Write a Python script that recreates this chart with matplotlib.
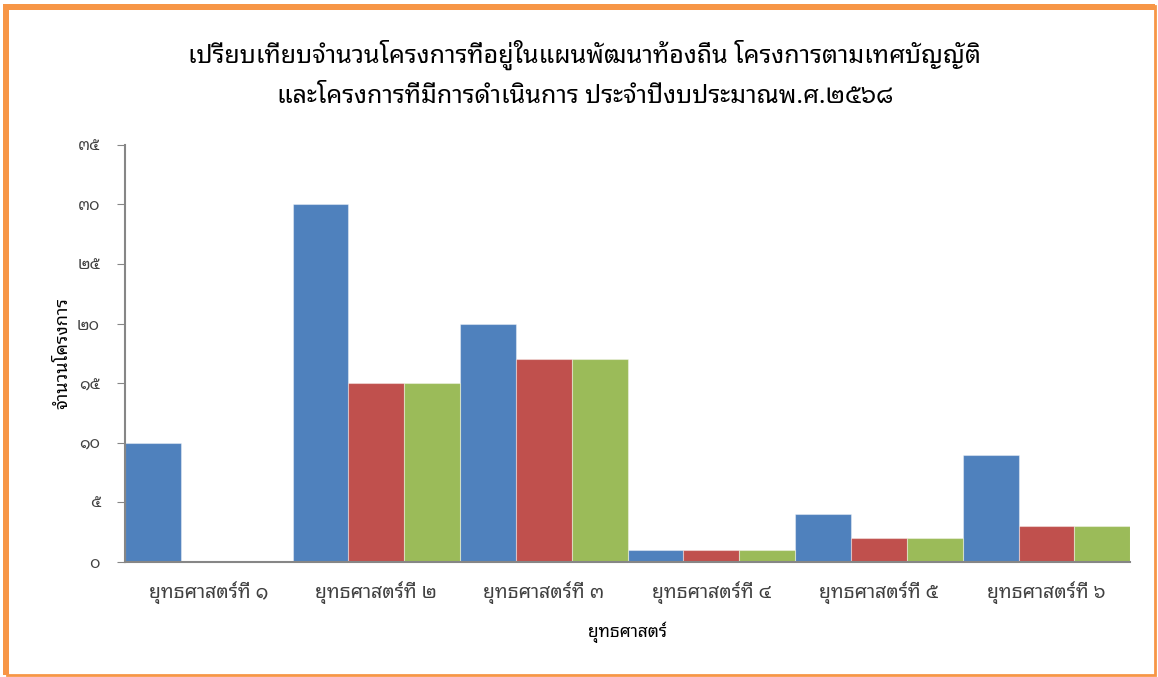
import numpy as np
import matplotlib
matplotlib.use("Agg")
import matplotlib.pyplot as plt
from matplotlib.patches import Rectangle

categories = ["ยุทธศาสตร์ที่ ๑", "ยุทธศาสตร์ที่ ๒", "ยุทธศาสตร์ที่ ๓",
              "ยุทธศาสตร์ที่ ๔", "ยุทธศาสตร์ที่ ๕", "ยุทธศาสตร์ที่ ๖"]
in_plan = [10, 30, 20, 1, 4, 9]
by_decree = [0, 15, 17, 1, 2, 3]
carried_out = [0, 15, 17, 1, 2, 3]
y_ticks = [0, 5, 10, 15, 20, 25, 30, 35]
y_tick_labels = ["๐", "๕", "๑๐", "๑๕", "๒๐", "๒๕", "๓๐", "๓๕"]

title = ("เปรียบเทียบจำนวนโครงการที่อยู่ในแผนพัฒนาท้องถิ่น โครงการตามเทศบัญญัติ\n"
         "และโครงการที่มีการดำเนินการ ประจำปีงบประมาณพ.ศ.๒๕๖๘")

plt.rcParams["font.family"] = ["Noto Sans Thai Looped", "Noto Sans Thai", "Loma", "DejaVu Sans"]

fig = plt.figure(figsize=(11.58, 6.77), dpi=100)
ax = fig.add_axes([0.108, 0.170, 0.868, 0.616])

x = np.arange(len(categories))
w = 1 / 3
colors = ["#4F81BD", "#C0504D", "#9BBB59"]
for i, (vals, c) in enumerate(zip([in_plan, by_decree, carried_out], colors)):
    ax.bar(x + (i - 1) * w, vals, width=w, color=c, edgecolor=(1, 1, 1, 0.4), linewidth=0.8)

ax.set_xlim(-0.5, len(categories) - 0.5)
ax.set_ylim(0, 35)
ax.set_yticks(y_ticks)
ax.set_yticklabels(y_tick_labels, fontsize=11.5, color="#404040")
ax.set_xticks(x)
ax.set_xticklabels(categories, fontsize=14, color="#404040")
ax.tick_params(axis="x", length=0, pad=14)
ax.tick_params(axis="y", length=6, color="#868686", pad=12)
for s in ["top", "right"]:
    ax.spines[s].set_visible(False)
for s in ["left", "bottom"]:
    ax.spines[s].set_color("#868686")
    ax.spines[s].set_linewidth(1.5)

ax.set_xlabel("ยุทธศาสตร์", fontsize=12.5, fontweight="bold", labelpad=13)
ax.set_ylabel("จำนวนโครงการ", fontsize=13, fontweight="bold", labelpad=4)
fig.text(0.505, 0.89, title, ha="center", va="center", fontsize=18,
         fontweight="bold", linespacing=1.7)

orange = "#F79646"
fig.patches.append(Rectangle((0.006, 0.003), 0.991, 0.988, transform=fig.transFigure,
                             fill=False, edgecolor=orange, linewidth=2))
fig.patches.append(Rectangle((0.003, 0.985), 0.994, 0.009, transform=fig.transFigure,
                             color=orange, linewidth=0))
fig.patches.append(Rectangle((0.003, 0.003), 0.005, 0.99, transform=fig.transFigure,
                             color=orange, linewidth=0))

fig.savefig("out.png", dpi=100)
